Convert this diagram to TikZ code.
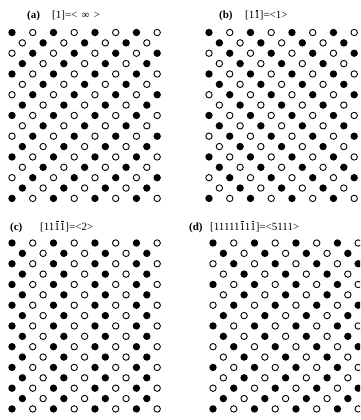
\documentclass[tikz,border=0pt]{standalone}
\usepackage{fontspec}
\setmainfont{Liberation Serif}
\newcommand\bone{\leavevmode\rlap{\hbox to 0.5em{\hss\rule[8.6pt]{2.6pt}{0.55pt}\hss}}1}
\newcommand\drawlattice[4]{%
  \foreach \r in {0,...,16}{%
    \foreach \k in {0,...,14}{%
      \pgfmathtruncatemacro\pp{mod(\k+\r,2)}%
      \ifnum\pp=0
        \pgfmathtruncatemacro\ss{#4}%
        \pgfmathtruncatemacro\bb{mod(\k-\ss+8,4)}%
        \ifnum\bb=0
          \node[bdot] (#1-\r-\k) at ({#2+\k*10.37},{#3+\r*10.37}) {};
        \else
          \node[wdot] (#1-\r-\k) at ({#2+\k*10.37},{#3+\r*10.37}) {};
        \fi
      \fi
    }%
  }%
}
\begin{document}
\begin{tikzpicture}[x=1pt,y=-1pt,
  bdot/.style={circle,fill=black,inner sep=0pt,minimum size=7.4pt},
  wdot/.style={circle,draw=black,line width=0.9pt,fill=white,inner sep=0pt,minimum size=6.4pt},
  lett/.style={font=\fontsize{11}{13}\selectfont\bfseries,anchor=base west,inner sep=0pt},
  lab/.style={font=\fontsize{11}{13}\selectfont,anchor=base west,inner sep=0pt}]
\useasboundingbox (0,0) rectangle (360,420);
\clip (0,0) rectangle (360,420);
% labels
\node[lett] (la) at (27,19) {(a)};
\node[lab] (ta) at (52,19) {[1]=<\hspace{1.5pt} ∞ \hspace{1.5pt}>};
\node[lett] (lb) at (219,19) {(b)};
\node[lab] (tb) at (245,19) {[1\bone]=<1>};
\node[lett] (lc) at (10,230) {(c)};
\node[lab] (tc) at (40,230) {[11\bone\bone]=<2>};
\node[lett] (ld) at (189,230) {(d)};
\node[lab] (td) at (210,230) {[11111\bone1\bone]=<5111>};
% lattices
\drawlattice{a}{12}{32.5}{mod(20-\r,4)}
\drawlattice{b}{209}{32.5}{mod(\r,4)}
\drawlattice{c}{12}{243}{mod(\r,2)}
\drawlattice{d}{213}{243}{{0,1,2,3,0,3,2,1}[mod(\r,8)]}
\end{tikzpicture}
\end{document}
